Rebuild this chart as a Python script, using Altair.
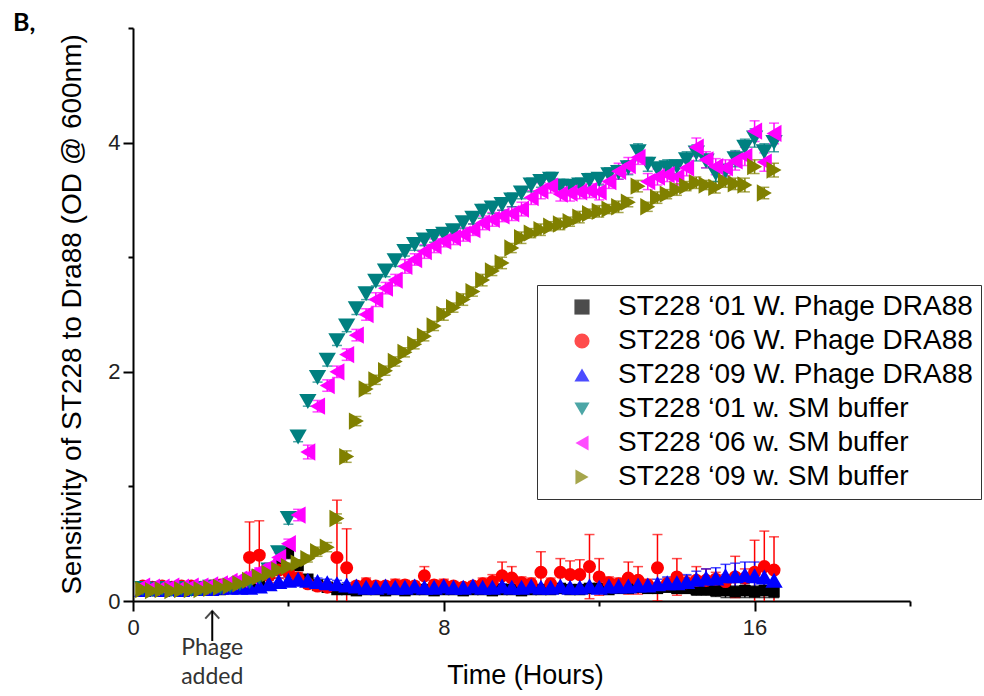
import altair as alt
import pandas as pd

TIME = [0.25, 0.5, 0.75, 1.0, 1.25, 1.5, 1.75, 2.0, 2.25, 2.5,
        2.75, 3.0, 3.25, 3.5, 3.75, 4.0, 4.25, 4.5, 4.75, 5.0,
        5.25, 5.5, 5.75, 6.0, 6.25, 6.5, 6.75, 7.0, 7.25, 7.5,
        7.75, 8.0, 8.25, 8.5, 8.75, 9.0, 9.25, 9.5, 9.75, 10.0,
        10.25, 10.5, 10.75, 11.0, 11.25, 11.5, 11.75, 12.0, 12.25, 12.5,
        12.75, 13.0, 13.25, 13.5, 13.75, 14.0, 14.25, 14.5, 14.75, 15.0,
        15.25, 15.5, 15.75, 16.0, 16.25, 16.5]

SERIES = ["ST228 \u201801 W. Phage DRA88",
          "ST228 \u201806 W. Phage DRA88",
          "ST228 \u201809 W. Phage DRA88",
          "ST228 \u201801 w. SM buffer",
          "ST228 \u201806 w. SM buffer",
          "ST228 \u201809 w. SM buffer"]
COLORS = ["#000000", "#ff0000", "#0000ff", "#008080", "#ff00ff", "#808000"]
SHAPES = ["square", "circle", "triangle-up", "triangle-down", "triangle-left", "triangle-right"]
SIZES = [130, 170, 300, 300, 300, 300]

BLACK = [0.10, 0.09, 0.10, 0.10, 0.09, 0.10, 0.10, 0.11, 0.10, 0.11,
         0.12, 0.14, 0.18, 0.24, 0.31, 0.42, 0.31, 0.19, 0.14, 0.12,
         0.10, 0.10, 0.09, 0.10, 0.10, 0.09, 0.10, 0.09, 0.10, 0.10,
         0.09, 0.10, 0.10, 0.09, 0.10, 0.10, 0.09, 0.10, 0.10, 0.09,
         0.10, 0.10, 0.10, 0.11, 0.10, 0.10, 0.11, 0.11, 0.10, 0.11,
         0.11, 0.12, 0.11, 0.11, 0.12, 0.11, 0.11, 0.10, 0.10, 0.09,
         0.09, 0.08, 0.09, 0.08, 0.09, 0.08]
BLACK_ERR = [0.02, 0.02, 0.02, 0.01, 0.02, 0.02, 0.02, 0.02, 0.02, 0.02,
             0.02, 0.03, 0.03, 0.04, 0.05, 0.05, 0.04, 0.03, 0.03, 0.03,
             0.03, 0.03, 0.02, 0.03, 0.02, 0.03, 0.02, 0.03, 0.02, 0.03,
             0.02, 0.03, 0.02, 0.03, 0.02, 0.03, 0.02, 0.03, 0.02, 0.03,
             0.03, 0.02, 0.03, 0.03, 0.02, 0.03, 0.03, 0.02, 0.03, 0.03,
             0.03, 0.03, 0.03, 0.03, 0.03, 0.04, 0.04, 0.05, 0.05, 0.05,
             0.06, 0.05, 0.06, 0.05, 0.06, 0.05]

RED = [0.13, 0.12, 0.13, 0.12, 0.13, 0.13, 0.12, 0.13, 0.14, 0.14,
       0.16, 0.38, 0.40, 0.22, 0.27, 0.25, 0.20, 0.15, 0.13, 0.12,
       0.38, 0.29, 0.13, 0.15, 0.13, 0.13, 0.14, 0.14, 0.13, 0.22,
       0.14, 0.14, 0.13, 0.12, 0.13, 0.15, 0.17, 0.22, 0.20, 0.16,
       0.15, 0.25, 0.15, 0.25, 0.23, 0.23, 0.30, 0.21, 0.16, 0.15,
       0.20, 0.18, 0.14, 0.29, 0.15, 0.21, 0.16, 0.18, 0.18, 0.19,
       0.17, 0.21, 0.20, 0.25, 0.30, 0.27]
RED_ERR = [0.03, 0.03, 0.02, 0.03, 0.03, 0.02, 0.03, 0.03, 0.03, 0.03,
           0.04, 0.31, 0.30, 0.06, 0.07, 0.06, 0.05, 0.04, 0.04, 0.04,
           0.50, 0.34, 0.04, 0.05, 0.04, 0.04, 0.05, 0.04, 0.04, 0.08,
           0.04, 0.05, 0.04, 0.04, 0.04, 0.05, 0.06, 0.12, 0.10, 0.05,
           0.05, 0.18, 0.05, 0.12, 0.12, 0.13, 0.28, 0.16, 0.05, 0.05,
           0.14, 0.12, 0.05, 0.29, 0.05, 0.16, 0.06, 0.12, 0.10, 0.06,
           0.06, 0.18, 0.08, 0.28, 0.31, 0.29]

BLUE = [0.10, 0.11, 0.10, 0.11, 0.10, 0.11, 0.11, 0.11, 0.12, 0.12,
        0.12, 0.12, 0.13, 0.15, 0.17, 0.18, 0.19, 0.18, 0.17, 0.16,
        0.15, 0.14, 0.13, 0.12, 0.12, 0.13, 0.12, 0.12, 0.13, 0.12,
        0.12, 0.13, 0.12, 0.12, 0.13, 0.12, 0.12, 0.13, 0.12, 0.12,
        0.13, 0.12, 0.12, 0.13, 0.12, 0.12, 0.13, 0.12, 0.13, 0.13,
        0.13, 0.14, 0.14, 0.15, 0.16, 0.16, 0.17, 0.19, 0.20, 0.20,
        0.22, 0.22, 0.23, 0.22, 0.21, 0.18]
BLUE_ERR = [0.02, 0.02, 0.02, 0.02, 0.02, 0.02, 0.02, 0.02, 0.02, 0.02,
            0.02, 0.02, 0.02, 0.03, 0.03, 0.03, 0.03, 0.03, 0.03, 0.03,
            0.03, 0.02, 0.02, 0.02, 0.02, 0.02, 0.02, 0.02, 0.02, 0.02,
            0.02, 0.02, 0.02, 0.02, 0.02, 0.02, 0.02, 0.02, 0.02, 0.02,
            0.02, 0.02, 0.02, 0.02, 0.02, 0.02, 0.02, 0.02, 0.02, 0.02,
            0.03, 0.03, 0.03, 0.04, 0.05, 0.06, 0.06, 0.07, 0.08, 0.09,
            0.10, 0.11, 0.11, 0.12, 0.10, 0.09]

TEAL = [0.11, 0.10, 0.11, 0.10, 0.11, 0.10, 0.11, 0.12, 0.12, 0.13,
        0.15, 0.17, 0.21, 0.27, 0.42, 0.72, 1.43, 1.74, 1.95, 2.10,
        2.27, 2.40, 2.55, 2.68, 2.79, 2.88, 2.97, 3.05, 3.11, 3.15,
        3.18, 3.20, 3.23, 3.30, 3.34, 3.40, 3.43, 3.46, 3.50, 3.56,
        3.63, 3.66, 3.68, 3.62, 3.62, 3.63, 3.67, 3.68, 3.72, 3.74,
        3.78, 3.92, 3.81, 3.77, 3.78, 3.79, 3.85, 3.91, 3.84, 3.73,
        3.75, 3.86, 3.96, 4.04, 3.92, 4.00]
TEAL_ERR = [0.02, 0.02, 0.02, 0.02, 0.02, 0.02, 0.02, 0.02, 0.02, 0.02,
            0.02, 0.03, 0.03, 0.03, 0.04, 0.05, 0.04, 0.04, 0.04, 0.05,
            0.04, 0.05, 0.05, 0.05, 0.04, 0.05, 0.05, 0.04, 0.05, 0.05,
            0.05, 0.05, 0.04, 0.05, 0.05, 0.06, 0.05, 0.05, 0.06, 0.05,
            0.06, 0.05, 0.06, 0.06, 0.05, 0.06, 0.06, 0.05, 0.06, 0.06,
            0.06, 0.07, 0.06, 0.06, 0.07, 0.06, 0.07, 0.07, 0.06, 0.07,
            0.06, 0.07, 0.07, 0.08, 0.07, 0.08]

MAGENTA = [0.13, 0.12, 0.12, 0.13, 0.12, 0.13, 0.13, 0.14, 0.15, 0.17,
           0.19, 0.22, 0.26, 0.30, 0.38, 0.50, 0.75, 1.30, 1.70, 1.88,
           2.00, 2.15, 2.32, 2.50, 2.63, 2.73, 2.80, 2.92, 2.98, 3.05,
           3.10, 3.14, 3.17, 3.20, 3.24, 3.30, 3.33, 3.36, 3.38, 3.42,
           3.52, 3.58, 3.62, 3.55, 3.56, 3.57, 3.58, 3.57, 3.66, 3.75,
           3.80, 3.87, 3.66, 3.70, 3.72, 3.70, 3.78, 3.96, 3.85, 3.79,
           3.78, 3.84, 3.88, 4.10, 3.83, 4.08]
MAGENTA_ERR = [0.02, 0.02, 0.02, 0.02, 0.02, 0.02, 0.02, 0.02, 0.02, 0.02,
               0.02, 0.03, 0.03, 0.03, 0.04, 0.04, 0.05, 0.06, 0.05, 0.05,
               0.05, 0.05, 0.05, 0.05, 0.06, 0.05, 0.05, 0.06, 0.05, 0.06,
               0.06, 0.05, 0.06, 0.06, 0.05, 0.06, 0.06, 0.05, 0.06, 0.06,
               0.06, 0.07, 0.06, 0.06, 0.07, 0.06, 0.06, 0.07, 0.06, 0.07,
               0.07, 0.06, 0.07, 0.07, 0.06, 0.07, 0.07, 0.08, 0.07, 0.07,
               0.07, 0.08, 0.08, 0.09, 0.08, 0.09]

OLIVE = [0.10, 0.09, 0.10, 0.09, 0.10, 0.10, 0.10, 0.11, 0.12, 0.13,
         0.15, 0.18, 0.21, 0.24, 0.27, 0.30, 0.33, 0.37, 0.43, 0.47,
         0.72, 1.26, 1.57, 1.85, 1.93, 2.01, 2.09, 2.17, 2.24, 2.31,
         2.40, 2.50, 2.56, 2.63, 2.70, 2.80, 2.88, 2.95, 3.08, 3.17,
         3.21, 3.24, 3.27, 3.29, 3.31, 3.35, 3.38, 3.40, 3.42, 3.44,
         3.48, 3.62, 3.44, 3.52, 3.55, 3.59, 3.62, 3.65, 3.63, 3.61,
         3.66, 3.64, 3.63, 3.79, 3.56, 3.76]
OLIVE_ERR = [0.02, 0.02, 0.02, 0.02, 0.02, 0.02, 0.02, 0.02, 0.02, 0.02,
             0.02, 0.02, 0.02, 0.03, 0.03, 0.03, 0.03, 0.03, 0.04, 0.04,
             0.04, 0.05, 0.04, 0.04, 0.04, 0.04, 0.04, 0.04, 0.04, 0.04,
             0.04, 0.05, 0.04, 0.05, 0.04, 0.05, 0.04, 0.05, 0.04, 0.05,
             0.04, 0.05, 0.04, 0.05, 0.04, 0.05, 0.04, 0.05, 0.04, 0.05,
             0.04, 0.05, 0.04, 0.05, 0.04, 0.05, 0.04, 0.05, 0.04, 0.05,
             0.05, 0.05, 0.06, 0.06, 0.05, 0.06]

VALUES = [BLACK, RED, BLUE, TEAL, MAGENTA, OLIVE]
ERRORS = [BLACK_ERR, RED_ERR, BLUE_ERR, TEAL_ERR, MAGENTA_ERR, OLIVE_ERR]

PHAGE_TIME = [2.04]

rows = []
for name, col, sz, vals, errs in zip(SERIES, COLORS, SIZES, VALUES, ERRORS):
    for t, v, e in zip(TIME, vals, errs):
        rows.append({"series": name, "hex": col, "sz": sz, "time": t, "od": v,
                     "lo": v - e, "hi": v + e})
df = pd.DataFrame(rows)

FONT = "Liberation Sans"

x_axis = alt.Axis(
    values=[0, 4, 8, 12, 16, 20],
    labelExpr="datum.value % 8 === 0 ? datum.label : ''",
    tickSize={"condition": {"test": "datum.value % 8 === 0", "value": 10}, "value": 5},
    tickWidth=2, tickColor="black", domainWidth=2, domainColor="black",
    labelFont=FONT, labelFontSize=22, labelColor="#222222", labelPadding=6,
    labelOverlap=False, labelFlush=False, grid=False,
    title="Time (Hours)", titleFont=FONT, titleFontSize=27, titleFontWeight="normal",
    titleColor="black", titleX=392, titleY=74, titleAlign="center", titleBaseline="middle",
)
y_axis = alt.Axis(
    values=[0, 1, 2, 3, 4, 5],
    labelExpr="datum.value % 2 === 0 ? datum.label : ''",
    tickSize={"condition": {"test": "datum.value % 2 === 0", "value": 10}, "value": 5},
    tickWidth=2, tickColor="black", domainWidth=2, domainColor="black",
    labelFont=FONT, labelFontSize=22, labelColor="#222222", labelPadding=3,
    labelOverlap=False, labelFlush=False, grid=False,
    title="Sensitivity of ST228 to Dra88 (OD @ 600nm)", titleFont=FONT, titleFontSize=28,
    titleFontWeight="normal", titleColor="black", titleX=-61, titleY=286,
    titleAngle=270, titleAlign="center", titleBaseline="middle",
)

xs = alt.Scale(domain=[0, 20], nice=False, zero=False)
ys = alt.Scale(domain=[0, 5], nice=False)

X = alt.X("time:Q", scale=xs, axis=x_axis)
base = alt.Chart(df)

err_rule = base.mark_rule(strokeWidth=1.5, clip=True).encode(
    x=X,
    y=alt.Y("lo:Q", scale=ys, axis=y_axis),
    y2="hi:Q",
    color=alt.Color("hex:N", scale=None),
)
cap_hi = base.mark_tick(orient="horizontal", size=10, thickness=1.5, clip=True).encode(
    x=X,
    y=alt.Y("hi:Q", scale=ys, axis=y_axis),
    color=alt.Color("hex:N", scale=None),
)
cap_lo = base.mark_tick(orient="horizontal", size=10, thickness=1.5, clip=True).encode(
    x=X,
    y=alt.Y("lo:Q", scale=ys, axis=y_axis),
    color=alt.Color("hex:N", scale=None),
)

legend = alt.Legend(
    title=None, orient="none", legendX=404, legendY=257, direction="vertical",
    strokeColor="#333333", fillColor="white", padding=8, rowPadding=6,
    symbolOffset=23, labelOffset=22, labelFont=FONT, labelFontSize=28,
    labelColor="black", labelLimit=700, symbolStrokeWidth=0, symbolOpacity=1,
    symbolSize=230,
)

points = base.mark_point(filled=True, opacity=1, fillOpacity=1, strokeWidth=0).encode(
    x=X,
    y=alt.Y("od:Q", scale=ys, axis=y_axis),
    color=alt.Color("series:N", scale=alt.Scale(domain=SERIES, range=COLORS), legend=legend),
    shape=alt.Shape("series:N", scale=alt.Scale(domain=SERIES, range=SHAPES)),
    size=alt.Size("sz:Q", scale=None),
)

ann = alt.Chart(pd.DataFrame({"time": PHAGE_TIME}))
arrow_line = ann.mark_rule(color="black", strokeWidth=2).encode(
    x=X, y=alt.value(583), y2=alt.value(613))
arrow_head = ann.mark_point(shape="M-1,1.1L0,0L1,1.1", filled=False, stroke="black",
                            strokeWidth=2, size=196).encode(
    x=X, y=alt.value(583))
arrow_text = ann.mark_text(text=["Phage", "added"], lineHeight=29, baseline="top",
                           align="center", font="Lato", fontSize=23, color="#333333").encode(
    x=X, y=alt.value(609))

panel = alt.Chart(pd.DataFrame({"lab": ["B,"]})).mark_text(
    font="Lato", fontWeight="bold", fontSize=25, align="left", baseline="alphabetic",
    color="black").encode(x=alt.value(-120), y=alt.value(3), text="lab:N")

chart = alt.layer(err_rule, cap_hi, cap_lo, points, arrow_line, arrow_head, arrow_text, panel).properties(
    width=777, height=573,
    autosize=alt.AutoSizeParams(type="none"),
    padding={"left": 133, "top": 28, "right": 74, "bottom": 95},
    background="white",
).configure_view(stroke=None)

chart.save("out.html", embed_options={"renderer": "svg", "actions": False})
